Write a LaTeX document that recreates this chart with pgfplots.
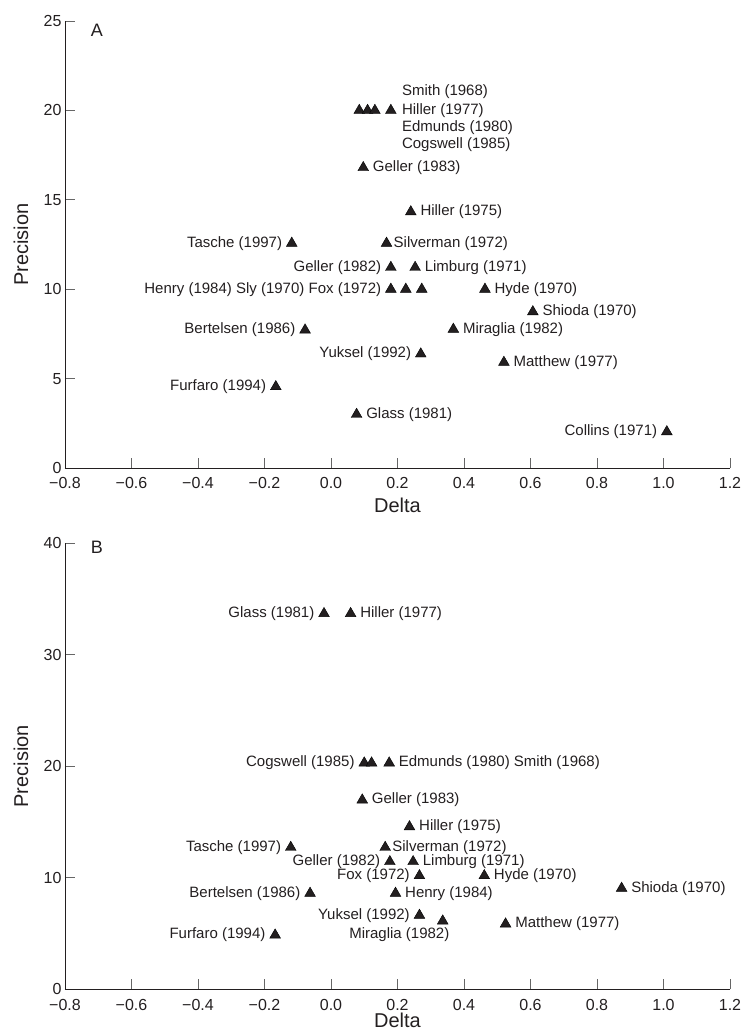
\documentclass[border=0pt]{standalone}
\usepackage{fontspec}
\setmainfont{Liberation Sans}
\usepackage{pgfplots}
\pgfplotsset{compat=1.18}
\definecolor{ink}{HTML}{231F20}
\tikzset{lab/.style={font=\fontsize{15}{15}\selectfont, text=ink, inner sep=0pt}}
\newcommand{\labR}[4][9.5pt]{\node[lab,anchor=west,xshift=#1] at (axis cs:#2,#3) {#4};}
\newcommand{\labL}[4][9.5pt]{\node[lab,anchor=east,xshift=-#1] at (axis cs:#2,#3) {#4};}
\pgfplotsset{
  myax/.style={
    scale only axis, width=665pt,
    axis x line*=bottom, axis y line*=left,
    axis line style={-, ink, line width=0.8pt},
    xmin=-0.8, xmax=1.2,
    xtick={-0.8,-0.6,-0.4,-0.2,0,0.2,0.4,0.6,0.8,1.0,1.2},
    xticklabels={−0.8,−0.6,−0.4,−0.2,0.0,0.2,0.4,0.6,0.8,1.0,1.2},
    tick align=inside, major tick length=10pt,
    tick style={black!60, line width=0.8pt},
    ticklabel style={font=\fontsize{16}{16}\selectfont, text=ink},
    xticklabel style={yshift=-6pt},
    xlabel={Delta}, ylabel={Precision},
    label style={font=\fontsize{20}{20}\selectfont, text=ink},
    xlabel style={at={(axis description cs:0.5,-0.083)}, anchor=center},
    ylabel style={at={(axis description cs:-0.0662,0.5)}, anchor=center},
    clip=false,
  },
  tri/.style={only marks, mark=triangle*, mark size=6.2pt, mark options={fill=ink, draw=none}},
}
\begin{document}
\begin{tikzpicture}
\useasboundingbox (0,0) rectangle (742pt,-1031pt);
% ---------------- Panel A
\begin{axis}[myax, height=447pt, at={(65pt,-468pt)}, anchor=south west,
  ymin=0, ymax=25, ytick={0,5,10,15,20,25}, yticklabels={0,5,10,15,20,25}]
\addplot[tri] coordinates {
 (0.085,20) (0.11,20) (0.132,20) (0.18,20)
 (0.097,16.8) (0.24,14.33) (-0.118,12.57) (0.167,12.57)
 (0.18,11.22) (0.253,11.22)
 (0.18,10) (0.225,10) (0.273,10) (0.463,10)
 (0.607,8.74) (-0.078,7.72) (0.368,7.76) (0.27,6.38)
 (0.52,5.91) (-0.166,4.55) (0.077,3.0) (1.01,2.03)
};
\node[lab,anchor=west,xshift=11pt,yshift=18.5pt] at (axis cs:0.18,20) {Smith (1968)};
\node[lab,anchor=west,xshift=11pt] at (axis cs:0.18,20) {Hiller (1977)};
\node[lab,anchor=west,xshift=11pt,yshift=-17.5pt] at (axis cs:0.18,20) {Edmunds (1980)};
\node[lab,anchor=west,xshift=11pt,yshift=-34.5pt] at (axis cs:0.18,20) {Cogswell (1985)};
\labR{0.097}{16.8}{Geller (1983)}
\labR{0.24}{14.33}{Hiller (1975)}
\labL{-0.118}{12.57}{Tasche (1997)}
\labR[7pt]{0.167}{12.57}{Silverman (1972)}
\labL{0.18}{11.22}{Geller (1982)}
\labR{0.253}{11.22}{Limburg (1971)}
\labL{0.18}{10}{Henry (1984) Sly (1970) Fox (1972)}
\labR{0.463}{10}{Hyde (1970)}
\labR{0.607}{8.74}{Shioda (1970)}
\labL{-0.078}{7.72}{Bertelsen (1986)}
\labR{0.368}{7.76}{Miraglia (1982)}
\labL{0.27}{6.38}{Yuksel (1992)}
\labR{0.52}{5.91}{Matthew (1977)}
\labL{-0.166}{4.55}{Furfaro (1994)}
\labR{0.077}{3.0}{Glass (1981)}
\labL{1.01}{2.03}{Collins (1971)}
\node[font=\fontsize{18}{18}\selectfont, text=ink] at (rel axis cs:0.048,0.98) {A};
\end{axis}
% ---------------- Panel B
\begin{axis}[myax, height=446pt, at={(65pt,-989.3pt)}, anchor=south west,
  ymin=0, ymax=40, ytick={0,10,20,30,40}, yticklabels={0,10,20,30,40},
  xlabel style={at={(axis description cs:0.5,-0.069)}, anchor=center}]
\addplot[tri] coordinates {
 (-0.021,33.7) (0.059,33.7)
 (0.10,20.3) (0.122,20.3) (0.175,20.3)
 (0.094,16.98) (0.236,14.58)
 (-0.121,12.73) (0.163,12.73)
 (0.177,11.45) (0.247,11.45)
 (0.266,10.19) (0.461,10.19)
 (0.874,9.06)
 (-0.063,8.61) (0.194,8.61)
 (0.266,6.64) (0.336,6.13) (0.525,5.86) (-0.168,4.87)
};
\labL{-0.021}{33.7}{Glass (1981)}
\labR{0.059}{33.7}{Hiller (1977)}
\labL{0.10}{20.3}{Cogswell (1985)}
\labR{0.175}{20.3}{Edmunds (1980) Smith (1968)}
\labR{0.094}{16.98}{Geller (1983)}
\labR{0.236}{14.58}{Hiller (1975)}
\labL{-0.121}{12.73}{Tasche (1997)}
\labR[7pt]{0.163}{12.73}{Silverman (1972)}
\labL{0.177}{11.45}{Geller (1982)}
\labR{0.247}{11.45}{Limburg (1971)}
\labL{0.266}{10.19}{Fox (1972)}
\labR{0.461}{10.19}{Hyde (1970)}
\labR{0.874}{9.06}{Shioda (1970)}
\labL{-0.063}{8.61}{Bertelsen (1986)}
\labR{0.194}{8.61}{Henry (1984)}
\labL{0.266}{6.64}{Yuksel (1992)}
\node[lab,xshift=-43.4pt,yshift=-14pt] at (axis cs:0.336,6.13) {Miraglia (1982)};
\labR{0.525}{5.86}{Matthew (1977)}
\labL{-0.168}{4.87}{Furfaro (1994)}
\node[font=\fontsize{18}{18}\selectfont, text=ink] at (rel axis cs:0.048,0.992) {B};
\end{axis}
\end{tikzpicture}
\end{document}
